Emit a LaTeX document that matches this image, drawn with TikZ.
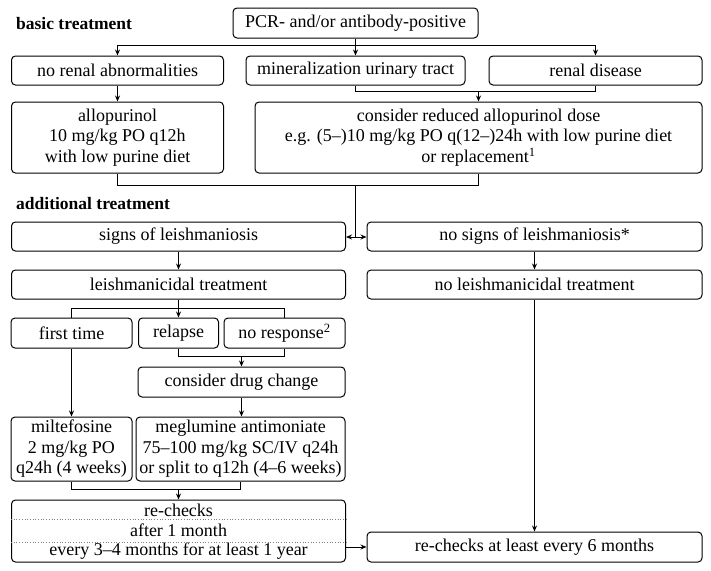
\documentclass[tikz,border=0pt]{standalone}
\usepackage{fontspec}
\setmainfont{Liberation Serif}
\usetikzlibrary{arrows.meta}
\begin{document}
\begin{tikzpicture}[x=1pt,y=-1pt,
  font=\fontsize{18}{20.5}\selectfont,
  bx/.style={draw, rounded corners=4pt, line width=1pt, inner sep=0pt, align=center},
  hd/.style={font=\fontsize{17.5}{20}\selectfont\bfseries, anchor=west, inner sep=0pt},
  ln/.style={line width=1pt},
  ar/.style={line width=1pt, -{Stealth[length=6pt,width=5pt]}},
  dl/.style={dotted, line width=0.7pt, gray}]
\useasboundingbox (0,0) rectangle (711,570);
\fill[white] (0,0) rectangle (711,570);
% headers
\node[hd] (h1) at (16,24) {basic treatment};
\node[hd] (h2) at (16,204) {additional treatment};
% boxes
\node[bx, minimum width=245, minimum height=30] (pcr) at (355.5,23) {PCR- and/or antibody-positive};
\node[bx, minimum width=212, minimum height=29] (norenal) at (117.5,70.5) {no renal abnormalities};
\node[bx, minimum width=219, minimum height=29] (mineral) at (355.5,70.5) {mineralization urinary tract};
\node[bx, minimum width=213, minimum height=29] (renal) at (595.5,70.5) {renal disease};
\node[bx, minimum width=212, minimum height=71] (allo) at (117.5,137.5) {allopurinol\\10 mg/kg PO q12h\\with low purine diet};
\node[bx, minimum width=447, minimum height=71] (reduced) at (478.5,137.5) {consider reduced allopurinol dose\\e.g. (5–)10 mg/kg PO q(12–)24h with low purine diet\\or replacement\textsuperscript{1}};
\node[bx, minimum width=334, minimum height=29] (signs) at (178.5,236.5) {signs of leishmaniosis};
\node[bx, minimum width=335, minimum height=29] (nosigns) at (534.5,236.5) {no signs of leishmaniosis*};
\node[bx, minimum width=334, minimum height=29] (leish) at (178.5,284.5) {leishmanicidal treatment};
\node[bx, minimum width=335, minimum height=29] (noleish) at (534.5,284.5) {no leishmanicidal treatment};
\node[bx, minimum width=121, minimum height=30] (first) at (71.5,333) {first time};
\node[bx, minimum width=80, minimum height=30] (relapse) at (178.5,333) {relapse};
\node[bx, minimum width=121, minimum height=30] (noresp) at (284.5,333) {no response\textsuperscript{2}};
\node[bx, minimum width=207, minimum height=30] (drug) at (241.5,382) {consider drug change};
\node[bx, minimum width=121, minimum height=64] (milte) at (71.5,449) {miltefosine\\2 mg/kg PO\\q24h (4 weeks)};
\node[bx, minimum width=209, minimum height=64] (meg) at (240.5,449) {meglumine antimoniate\\75–100 mg/kg SC/IV q24h\\or split to q12h (4–6 weeks)};
\node[bx, minimum width=334, minimum height=62] (rc) at (178.5,531) {};
\node[inner sep=0pt] (rc1) at (178.5,510) {re-checks};
\node[inner sep=0pt] (rc2) at (178.5,530.5) {after 1 month};
\node[inner sep=0pt] (rc3) at (178.5,551) {every 3–4 months for at least 1 year};
\draw[dl] (rc.west |- 0,519.5) -- (rc.east |- 0,519.5);
\draw[dl] (rc.west |- 0,542.5) -- (rc.east |- 0,542.5);
\node[bx, minimum width=335, minimum height=30] (rc6) at (534.5,547) {re-checks at least every 6 months};
% connectors
\coordinate (s1) at (355.5,45.5);
\draw[ar] (pcr.south) -- (mineral.north);
\draw[ar] (s1) -| (norenal.north);
\draw[ar] (s1) -| (renal.north);
\draw[ar] (norenal.south) -- (allo.north);
\coordinate (b1) at (355.5,91.5);
\draw[ln] (mineral.south) -- (b1) -| (renal.south);
\draw[ar] (reduced.north |- b1) -- (reduced.north);
\coordinate (m1) at (355.5,185.5);
\coordinate (m2) at (355.5,237);
\draw[ln] (allo.south) |- (m1) -| (reduced.south);
\draw[ln] (m1) -- (m2);
\draw[ar] (m2) -- (signs.east |- m2);
\draw[ar] (m2) -- (nosigns.west |- m2);
\draw[ar] (signs.south) -- (leish.north);
\draw[ar] (nosigns.south) -- (noleish.north);
\coordinate (b2) at (178.5,308.5);
\draw[ar] (leish.south) -- (relapse.north);
\draw[ln] (first.north) |- (b2) -| (noresp.north);
\coordinate (b3) at (178.5,356.5);
\draw[ln] (relapse.south) |- (b3) -| (noresp.south);
\draw[ar] (drug.north |- b3) -- (drug.north);
\draw[ar] (first.south) -- (milte.north);
\draw[ar] (drug.south) -- (drug.south |- meg.north);
\coordinate (b4) at (178.5,489.5);
\draw[ln] (milte.south) |- (b4) -| (meg.south);
\draw[ar] (b4) -- (rc.north);
\draw[ar] (rc.east |- rc6.west) -- (rc6.west);
\draw[ar] (noleish.south) -- (noleish.south |- rc6.north);
\end{tikzpicture}
\end{document}
